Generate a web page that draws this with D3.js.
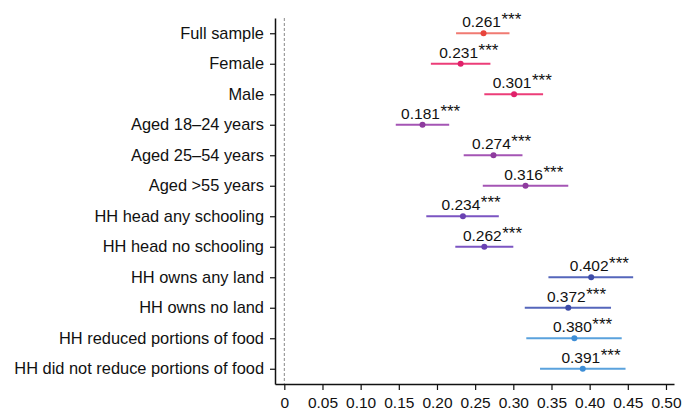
<!DOCTYPE html>
<html>
<head>
<meta charset="utf-8">
<script src="https://cdn.jsdelivr.net/npm/d3@7"></script>
<style>
  body { margin: 0; background: #fff; }
  text { font-family: "Liberation Sans", Arial, sans-serif; fill: #111; }
</style>
</head>
<body>
<div id="chart"></div>
<script>
// groups, top to bottom
const groups = [
  "Full sample", "Female", "Male", "Aged 18\u201324 years", "Aged 25\u201354 years",
  "Aged >55 years", "HH head any schooling", "HH head no schooling",
  "HH owns any land", "HH owns no land", "HH reduced portions of food",
  "HH did not reduce portions of food"
];
const estimates = [0.261, 0.231, 0.301, 0.181, 0.274, 0.316, 0.234, 0.262, 0.402, 0.372, 0.380, 0.391];
const ciLow  = [0.225, 0.192, 0.262, 0.146, 0.235, 0.260, 0.186, 0.224, 0.346, 0.315, 0.317, 0.335];
const ciHigh = [0.295, 0.270, 0.339, 0.216, 0.312, 0.372, 0.281, 0.300, 0.457, 0.428, 0.442, 0.447];
const stars = ["***", "***", "***", "***", "***", "***", "***", "***", "***", "***", "***", "***"];
const xTicks = [0, 0.05, 0.10, 0.15, 0.20, 0.25, 0.30, 0.35, 0.40, 0.45, 0.50];

// colour per row (line, point)
const lineCol = ["#f07a72", "#ec3d78", "#ec3d78", "#a455b4", "#a455b4", "#a455b4",
                 "#7b55c2", "#7b55c2", "#5566bb", "#5566bb", "#5aa2dd", "#5aa2dd"];
const dotCol  = ["#e8443c", "#e0206a", "#e0206a", "#8e3b9e", "#8e3b9e", "#8e3b9e",
                 "#6a42b2", "#6a42b2", "#3d4ca8", "#3d4ca8", "#3e8ed6", "#3e8ed6"];

const width = 692, height = 413;
const svg = d3.select("#chart").append("svg")
  .attr("width", width).attr("height", height);

const x = d3.scaleLinear().domain([-0.0122, 0.5105]).range([275, 674]);
const y = d3.scalePoint().domain(groups).range([18, 384]).padding(0.5);

// x axis
svg.append("g")
  .attr("transform", "translate(0,384)")
  .call(d3.axisBottom(x).tickValues(xTicks).tickSize(6).tickSizeOuter(0)
    .tickFormat(d => d === 0 ? "0" : d3.format(".2f")(d)))
  .call(g => g.select(".domain").attr("stroke", "#111").attr("stroke-width", 1.5))
  .call(g => g.selectAll(".tick line").attr("stroke", "#111").attr("stroke-width", 1.2))
  .call(g => g.selectAll(".tick text").attr("font-size", 15.5).attr("dy", "0.95em").attr("fill", "#111"));

// y axis
svg.append("g")
  .attr("transform", "translate(275,0)")
  .call(d3.axisLeft(y).tickSize(5).tickPadding(6).tickSizeOuter(0))
  .call(g => g.select(".domain").attr("stroke", "#111").attr("stroke-width", 1.5))
  .call(g => g.selectAll(".tick line").attr("stroke", "#111").attr("stroke-width", 1.2))
  .call(g => g.selectAll(".tick text").attr("font-size", 16.4).attr("dy", "0.3em").attr("fill", "#111"));

// reference line at 0
svg.append("line")
  .attr("x1", x(0)).attr("x2", x(0))
  .attr("y1", 18).attr("y2", 384)
  .attr("stroke", "#888").attr("stroke-width", 1)
  .attr("stroke-dasharray", "3,2");

const rows = svg.append("g").selectAll("g")
  .data(groups)
  .enter().append("g");

rows.append("line")
  .attr("x1", (d, i) => x(ciLow[i]))
  .attr("x2", (d, i) => x(ciHigh[i]))
  .attr("y1", d => y(d)).attr("y2", d => y(d))
  .attr("stroke", (d, i) => lineCol[i])
  .attr("stroke-width", 1.8);

rows.append("circle")
  .attr("cx", (d, i) => x(estimates[i]))
  .attr("cy", d => y(d))
  .attr("r", 3)
  .attr("fill", (d, i) => dotCol[i]);

// value label centred over the point, stars after it
rows.append("text")
  .attr("class", "num")
  .attr("x", (d, i) => x(estimates[i]) - 2)
  .attr("y", d => y(d) - 6)
  .attr("text-anchor", "middle")
  .attr("font-size", 15.5)
  .text((d, i) => d3.format(".3f")(estimates[i]));

rows.each(function(d, i) {
  const g = d3.select(this);
  const w = g.select(".num").node().getComputedTextLength();
  g.append("text")
    .attr("x", x(estimates[i]) - 2 + w / 2 + 0.5)
    .attr("y", y(d) - 8)
    .attr("font-size", 17)
    .text(stars[i]);
});
</script>
</body>
</html>
